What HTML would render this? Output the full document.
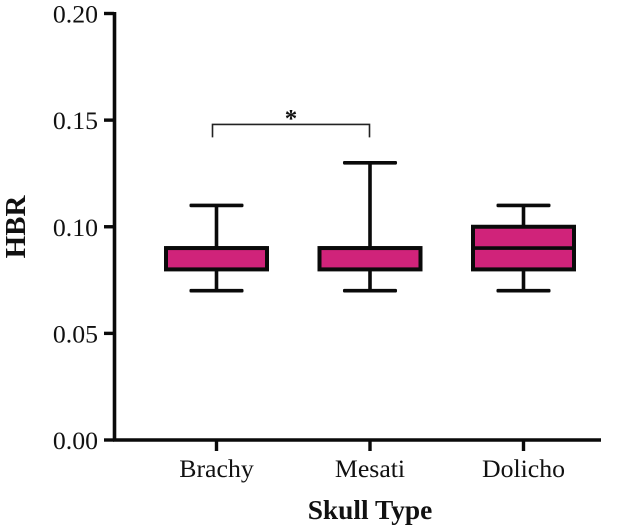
<!DOCTYPE html>
<html lang="en">
<head>
<meta charset="utf-8">
<title>HBR by Skull Type</title>
<style>
html,body{margin:0;padding:0;background:#fff;width:630px;height:530px;overflow:hidden}
svg{display:block}
text{font-family:"Liberation Serif",serif;fill:#111}
</style>
</head>
<body>
<svg id="chart" width="630" height="530" viewBox="0 0 630 530" xmlns="http://www.w3.org/2000/svg"></svg>
<script>
const categories = ['Brachy', 'Mesati', 'Dolicho'];
const whiskerLow = [0.07, 0.07, 0.07];
const quartile1 = [0.08, 0.08, 0.08];
const medians = [0.09, 0.09, 0.09];
const quartile3 = [0.09, 0.09, 0.10];
const whiskerHigh = [0.11, 0.13, 0.11];
const yTicks = [0.00, 0.05, 0.10, 0.15, 0.20];
const bracketFrom = 0;
const bracketTo = 1;
const bracketValue = 0.148;
const bracketLabel = '*';
const xTitle = 'Skull Type';
const yTitle = 'HBR';

const svg = document.getElementById('chart');
const NS = 'http://www.w3.org/2000/svg';
const yScale = v => 440 - (v / 0.2) * 426.5;
const xScale = i => 216.5 + i * 153.5;
const ink = '#0a0a0a';

function add(tag, attrs, parent) {
  const el = document.createElementNS(NS, tag);
  for (const k in attrs) el.setAttribute(k, attrs[k]);
  (parent || svg).appendChild(el);
  return el;
}
function line(x1, y1, x2, y2, w, parent, color) {
  return add('line', {x1, y1, x2, y2, stroke: color || ink, 'stroke-width': w, 'stroke-linecap': 'butt'}, parent);
}

const yAxis = add('g', {});


const yLine = line(114.5, 12, 114.5, 441.5, 3.6, yAxis);


yTicks.forEach(t => {
  const y = yScale(t);
  const tick = line(104, y, 114, y, 3.4, yAxis);
  
  
  const label = add('text', {x: 98, y: y + 9, 'text-anchor': 'end', 'font-size': 25.8}, yAxis);
  label.textContent = t.toFixed(2);
  
  
});

const xAxis = add('g', {});


const xLine = line(113, 440, 601, 440, 3.6, xAxis);


categories.forEach((c, i) => {
  const x = xScale(i);
  const tick = line(x, 440, x, 451, 3.4, xAxis);
  
  
  const label = add('text', {x, y: 477, 'text-anchor': 'middle', 'font-size': 25.8}, xAxis);
  label.textContent = c;
  
  
});

categories.forEach((c, i) => {
  const x = xScale(i);
  const g = add('g', {});
  
  
  line(x, yScale(whiskerHigh[i]), x, yScale(quartile3[i]), 3.6, g);
  line(x, yScale(quartile1[i]), x, yScale(whiskerLow[i]), 3.6, g);
  add('rect', {x: x - 27, y: yScale(whiskerHigh[i]) - 1.8, width: 54, height: 3.6, rx: 1.2, fill: ink}, g);
  add('rect', {x: x - 27, y: yScale(whiskerLow[i]) - 1.8, width: 54, height: 3.6, rx: 1.2, fill: ink}, g);
  add('rect', {
    x: x - 50.5, y: yScale(quartile3[i]), width: 101,
    height: yScale(quartile1[i]) - yScale(quartile3[i]),
    fill: '#d0237a', stroke: ink, 'stroke-width': 4
  }, g);
  line(x - 50.5, yScale(medians[i]), x + 50.5, yScale(medians[i]), 3.6, g);
});

const bx1 = xScale(bracketFrom) - 4;
const bx2 = xScale(bracketTo) - 0.5;
const by = yScale(bracketValue);
const bracket = add('path', {
  d: 'M' + bx1 + ' ' + (by + 13) + 'V' + by + 'H' + bx2 + 'V' + (by + 13),
  fill: 'none', stroke: '#222', 'stroke-width': 1.6
});


const star = add('text', {x: (bx1 + bx2) / 2, y: by + 2, 'text-anchor': 'middle', 'font-size': 25, 'font-weight': 'bold'});
star.textContent = bracketLabel;



const xt = add('text', {x: 370, y: 519, 'text-anchor': 'middle', 'font-size': 27.4, 'font-weight': 'bold'});
xt.textContent = xTitle;


const yt = add('text', {x: 0, y: 0, 'text-anchor': 'middle', 'font-size': 29, 'font-weight': 'bold', transform: 'translate(25 227) rotate(-90)'});
yt.textContent = yTitle;


</script>
</body>
</html>
